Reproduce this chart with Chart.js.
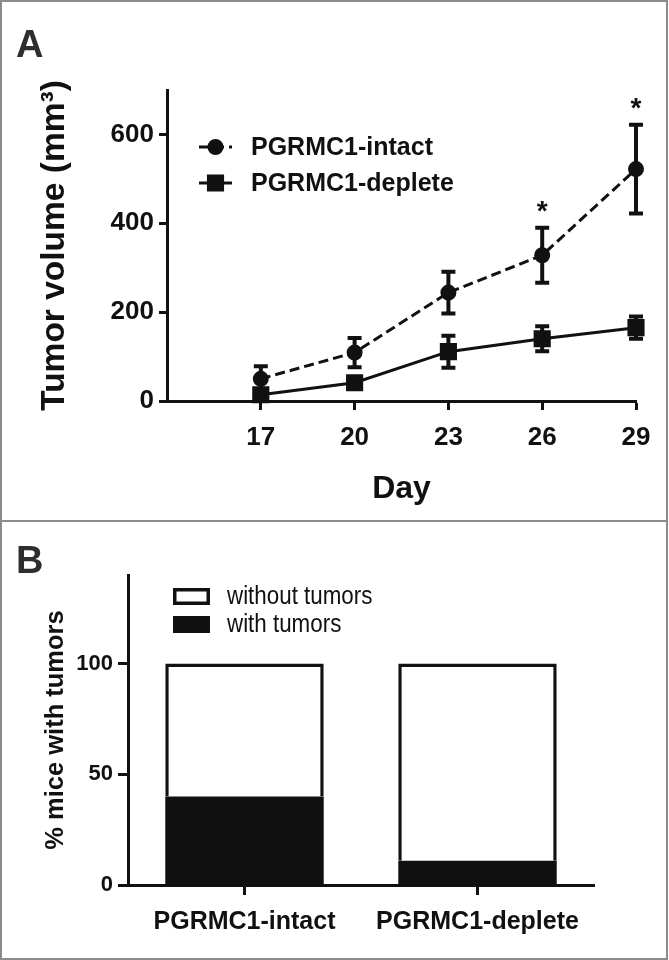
<!DOCTYPE html>
<html>
<head>
<meta charset="utf-8">
<script src="https://cdn.jsdelivr.net/npm/chart.js@4.4.1/dist/chart.umd.min.js"></script>
<style>
  html, body { margin: 0; padding: 0; background: #fff; }
  body { width: 669px; height: 960px; position: relative; overflow: hidden; }
  canvas { position: absolute; left: 0; }
  .frame { position: absolute; box-sizing: border-box; border: 2px solid #8c8c8c; pointer-events: none; }
  .tag { position: absolute; font: bold 38px "Liberation Sans", Arial, sans-serif; color: #2e2e2e; }
</style>
</head>
<body>
<canvas id="chartA" width="669" height="521" style="top:0"></canvas>
<canvas id="chartB" width="669" height="439" style="top:521px"></canvas>
<div class="frame" style="left:0;top:0;width:668px;height:522px"></div>
<div class="frame" style="left:0;top:520px;width:668px;height:440px"></div>
<div class="tag" style="left:16px;top:23px">A</div>
<div class="tag" style="left:16px;top:539px">B</div>
<script>
// Panel A data: tumor volume by day
var days = [17, 20, 23, 26, 29];
var intactMean = [50, 109, 244, 328, 522];
var intactErr = [28, 33, 47, 62, 100];
var depleteMean = [14, 41, 111, 140, 165];
var depleteErr = [8, 8, 36, 28, 25];
var intactStars = ['', '', '', '*', '*'];
var yTicksA = [0, 200, 400, 600];

// Panel B data: % mice with tumors
var groups = ['PGRMC1-intact', 'PGRMC1-deplete'];
var withTumors = [40, 11];
var withoutTumors = [60, 89];
var yTicksB = [0, 50, 100];

var FONT = '"Liberation Sans", Arial, sans-serif';
var INK = '#111';
Chart.defaults.color = INK;
Chart.defaults.font.family = FONT;

function pts(xs, ys) {
  return xs.map(function(x, i) { return {x: x, y: ys[i]}; });
}

// error bars with caps, drawn from the dataset's errors
var errorBars = {
  id: 'errorBars',
  afterDatasetsDraw: function(chart) {
    var ctx = chart.ctx, ys = chart.scales.y;
    chart.data.datasets.forEach(function(ds, di) {
      if (!ds.errors) return;
      var meta = chart.getDatasetMeta(di);
      meta.data.forEach(function(pt, i) {
        var v = ds.data[i].y, e = ds.errors[i];
        var top = ys.getPixelForValue(v + e), bot = ys.getPixelForValue(v - e);
        ctx.save();
        ctx.strokeStyle = INK;
        ctx.lineWidth = 4;
        ctx.beginPath();
        ctx.moveTo(pt.x, top); ctx.lineTo(pt.x, bot);
        ctx.moveTo(pt.x - 7, top); ctx.lineTo(pt.x + 7, top);
        ctx.moveTo(pt.x - 7, bot); ctx.lineTo(pt.x + 7, bot);
        ctx.stroke();
        if (ds.stars && ds.stars[i]) {
          ctx.fillStyle = INK;
          ctx.font = 'bold 28px ' + FONT;
          ctx.textAlign = 'center';
          ctx.textBaseline = 'middle';
          ctx.fillText(ds.stars[i], pt.x, top - 15);
        }
        ctx.restore();
      });
    });
  }
};

// legend for A: line sample + marker + label
var lineLegend = {
  id: 'lineLegend',
  afterDraw: function(chart) {
    var ctx = chart.ctx, a = chart.chartArea;
    chart.data.datasets.forEach(function(ds, i) {
      var y = a.top + 57 + i * 36, x0 = a.left + 32, x1 = a.left + 65;
      ctx.save();
      ctx.strokeStyle = INK;
      ctx.lineWidth = 3;
      ctx.setLineDash(ds.borderDash || []);
      ctx.beginPath(); ctx.moveTo(x0, y); ctx.lineTo(x1, y); ctx.stroke();
      ctx.setLineDash([]);
      ctx.fillStyle = INK;
      Chart.helpers.drawPoint(ctx, {pointStyle: ds.pointStyle, radius: ds.pointRadius, rotation: 0, borderWidth: 1}, (x0 + x1) / 2, y);
      ctx.font = 'bold 25px ' + FONT;
      ctx.textBaseline = 'middle';
      ctx.fillText(ds.label, a.left + 84, y + 1);
      ctx.restore();
    });
  }
};

new Chart(document.getElementById('chartA'), {
  type: 'line',
  data: {
    datasets: [{
      label: 'PGRMC1-intact',
      data: pts(days, intactMean),
      errors: intactErr,
      stars: intactStars,
      borderColor: INK, backgroundColor: INK,
      borderWidth: 3, borderDash: [10, 5],
      pointStyle: 'circle', pointRadius: 6.5, pointBackgroundColor: INK, pointBorderColor: INK,
      clip: false
    }, {
      label: 'PGRMC1-deplete',
      data: pts(days, depleteMean),
      errors: depleteErr,
      borderColor: INK, backgroundColor: INK,
      borderWidth: 3,
      pointStyle: 'rect', pointRadius: 10, pointBackgroundColor: INK, pointBorderColor: INK,
      clip: false
    }]
  },
  options: {
    responsive: false,
    animation: false,
    layout: {padding: {left: 0, top: 90, right: 33, bottom: 0}},
    plugins: {legend: {display: false}, tooltip: {enabled: false}},
    scales: {
      x: {
        type: 'linear', min: 14, max: 29,
        afterBuildTicks: function(s) { s.ticks = days.map(function(v) { return {value: v}; }); },
        afterFit: function(s) { s.height = 120; },
        grid: {drawOnChartArea: false, drawTicks: true, tickLength: 9, tickColor: INK, tickWidth: 3},
        border: {display: true, color: INK, width: 3},
        ticks: {font: {size: 26, weight: 'bold'}, color: INK, padding: 12, maxRotation: 0},
        title: {display: true, text: 'Day', font: {size: 32, weight: 'bold'}, color: INK, padding: {top: 0, bottom: 13}}
      },
      y: {
        min: 0, max: 700,
        afterBuildTicks: function(s) { s.ticks = yTicksA.map(function(v) { return {value: v}; }); },
        afterFit: function(s) { s.width = 167; },
        grid: {drawOnChartArea: false, drawTicks: true, tickLength: 8, tickColor: INK, tickWidth: 3},
        border: {display: true, color: INK, width: 3},
        ticks: {font: {size: 26, weight: 'bold'}, color: INK, padding: 5},
        title: {display: true, text: 'Tumor volume (mm³)', font: {size: 33.5, weight: 'bold'}, color: INK, padding: {top: 35, bottom: 0}}
      }
    }
  },
  plugins: [errorBars, lineLegend]
});

// legend for B: boxes + labels, top entry is the upper stack
var boxLegend = {
  id: 'boxLegend',
  afterDraw: function(chart) {
    var ctx = chart.ctx, a = chart.chartArea;
    var list = chart.data.datasets.slice().reverse();
    list.forEach(function(ds, i) {
      var y = a.top + 13 + i * 28;
      ctx.save();
      ctx.fillStyle = ds.backgroundColor;
      ctx.fillRect(a.left + 45, y, 37, 17);
      if (ds.borderWidth) {
        ctx.strokeStyle = ds.borderColor;
        ctx.lineWidth = 3.5;
        ctx.strokeRect(a.left + 46.75, y + 1.75, 33.5, 13.5);
      }
      ctx.fillStyle = INK;
      ctx.font = '26px ' + FONT;
      ctx.textBaseline = 'middle';
      // narrow face look: squeeze the text horizontally
      ctx.translate(a.left + 99, y + 9);
      ctx.scale(0.86, 1);
      ctx.fillText(ds.label, 0, 0);
      ctx.restore();
    });
  }
};

new Chart(document.getElementById('chartB'), {
  type: 'bar',
  data: {
    labels: groups,
    datasets: [{
      label: 'with tumors',
      data: withTumors,
      backgroundColor: INK, borderColor: INK, borderWidth: 0
    }, {
      label: 'without tumors',
      data: withoutTumors,
      backgroundColor: '#fff', borderColor: INK, borderWidth: 3.5, borderSkipped: 'bottom'
    }]
  },
  options: {
    responsive: false,
    animation: false,
    layout: {padding: {left: 0, top: 54, right: 75, bottom: 0}},
    datasets: {bar: {categoryPercentage: 1, barPercentage: 0.68}},
    plugins: {legend: {display: false}, tooltip: {enabled: false}},
    scales: {
      x: {
        stacked: true,
        afterFit: function(s) { s.height = 75; },
        grid: {offset: false, drawOnChartArea: false, drawTicks: true, tickLength: 10, tickColor: INK, tickWidth: 3},
        border: {display: true, color: INK, width: 3},
        ticks: {font: {size: 25, weight: 'bold'}, color: INK, padding: 12, maxRotation: 0}
      },
      y: {
        stacked: true, min: 0, max: 140,
        afterBuildTicks: function(s) { s.ticks = yTicksB.map(function(v) { return {value: v}; }); },
        afterFit: function(s) { s.width = 128; },
        grid: {drawOnChartArea: false, drawTicks: true, tickLength: 10, tickColor: INK, tickWidth: 3},
        border: {display: true, color: INK, width: 3},
        ticks: {font: {size: 22, weight: 'bold'}, color: INK, padding: 5},
        title: {display: true, text: '% mice with tumors', font: {size: 25.5, weight: 'bold'}, color: INK, padding: {top: 41, bottom: 0}}
      }
    }
  },
  plugins: [boxLegend]
});
</script>
</body>
</html>
